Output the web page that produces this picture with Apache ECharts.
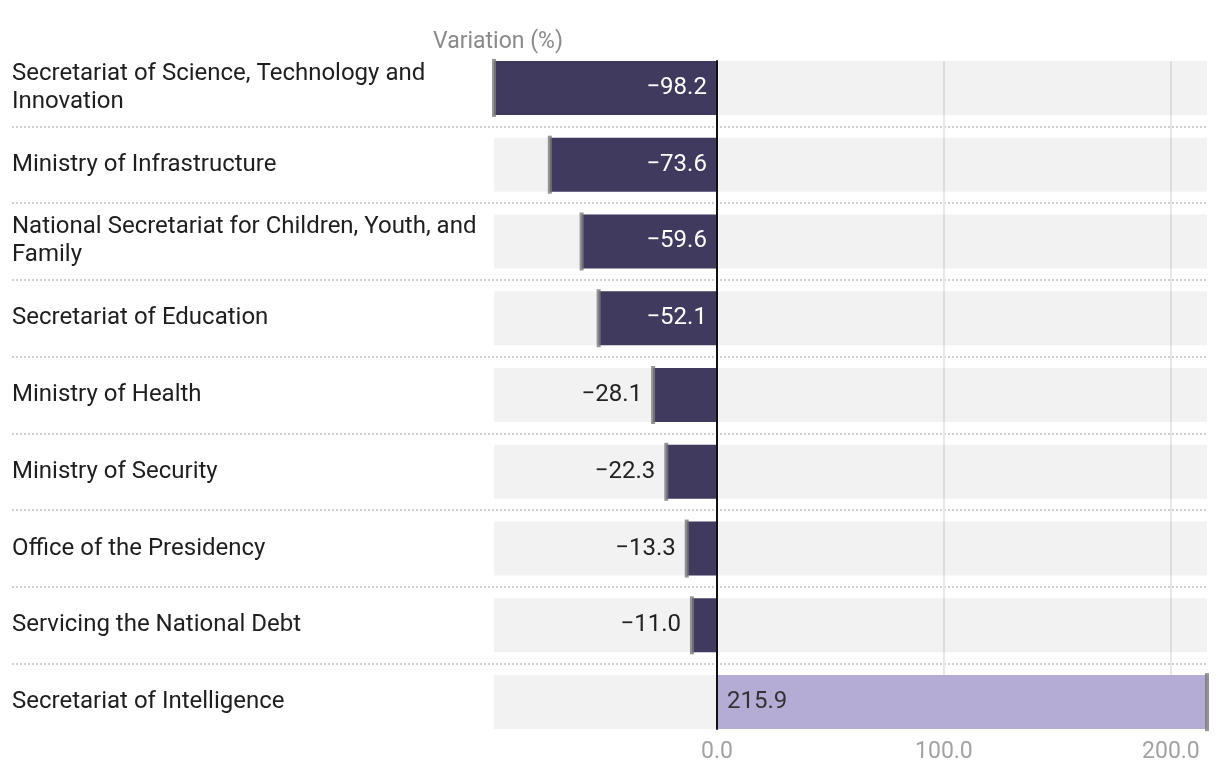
<!DOCTYPE html>
<html>
<head>
<meta charset="utf-8">
<script src="https://cdn.jsdelivr.net/npm/echarts@6/dist/echarts.min.js"></script>
<style>
html,body{margin:0;padding:0;background:#fff;}
#chart{width:1220px;height:776px;}
</style>
</head>
<body>
<div id="chart"></div>
<script>
// ---- data ----
const categories = [
  'Secretariat of Science, Technology and Innovation',
  'Ministry of Infrastructure',
  'National Secretariat for Children, Youth, and Family',
  'Secretariat of Education',
  'Ministry of Health',
  'Ministry of Security',
  'Office of the Presidency',
  'Servicing the National Debt',
  'Secretariat of Intelligence'
];
const variation = [-98.2, -73.6, -59.6, -52.1, -28.1, -22.3, -13.3, -11.0, 215.9];
const tickValues = [0, 100, 200];
const axisTitle = 'Variation (%)';

// ---- layout ----
const W = 1220, H = 776;
const gridTop = 49.5, gridBottom = 35.5;
const plotLeft = 494, plotRight = 13, labelLeft = 12;
const barWidth = 54;
const band = (H - gridTop - gridBottom) / categories.length;
const zeroTop = gridTop + band / 2 - barWidth / 2;
const zeroBottom = gridBottom + band / 2 - barWidth / 2;
const FONT = 'Roboto';
const xMin = Math.min(...variation), xMax = Math.max(...variation);

const fmt = v => (v < 0 ? '\u2212' : '') + Math.abs(v).toFixed(1);

const barData = variation.map(v => {
  const big = Math.abs(v) > 40;
  let label;
  if (v >= 0) {
    label = {position: 'insideLeft', distance: 10, color: '#333'};
  } else if (big) {
    label = {position: 'insideRight', distance: 10, color: '#fff'};
  } else {
    label = {position: 'outside', distance: 11, color: '#222'};
  }
  return {
    value: v,
    itemStyle: {color: v < 0 ? '#413a5f' : '#b4acd4'},
    label: label
  };
});

const capData = variation.map((v, i) => [v, i]);

const chart = echarts.init(document.getElementById('chart'), null, {renderer: 'canvas'});
chart.setOption({
  backgroundColor: '#fff',
  animation: false,
  textStyle: {fontFamily: FONT},
  title: {
    text: axisTitle,
    left: 428, top: 26,
    textStyle: {fontFamily: FONT, fontSize: 23, fontWeight: 'normal', color: '#8a8a8a'}
  },
  grid: [
    {left: labelLeft, right: plotRight, top: gridTop, bottom: gridBottom, containLabel: false},
    {left: plotLeft, right: plotRight, top: gridTop, bottom: gridBottom, containLabel: false},
    {left: plotLeft, right: plotRight, top: zeroTop, bottom: zeroBottom, containLabel: false}
  ],
  xAxis: [
    {gridIndex: 0, type: 'value', show: false, min: 0, max: 1},
    {gridIndex: 1, type: 'value', min: xMin, max: xMax, show: false},
    {
      gridIndex: 2, type: 'value', min: xMin, max: xMax,
      axisLine: {show: false},
      axisTick: {show: false, customValues: tickValues},
      axisLabel: {
        customValues: tickValues,
        formatter: v => v.toFixed(1),
        color: '#a3a3a3', fontSize: 23, fontFamily: FONT, margin: 12
      },
      splitLine: {show: true, lineStyle: {color: '#e8e8e8', width: 2}}
    }
  ],
  yAxis: [
    {
      gridIndex: 0, type: 'category', inverse: true, data: categories,
      axisLine: {show: false}, axisTick: {show: false},
      axisLabel: {
        inside: true, margin: 0, color: '#1e1e1e', fontSize: 24, fontFamily: FONT,
        lineHeight: 28, width: 480, overflow: 'break', align: 'left'
      },
      splitLine: {
        show: true, showMinLine: false, showMaxLine: false,
        lineStyle: {color: '#d0d0d0', width: 2, type: [2, 2]}
      }
    },
    {
      gridIndex: 1, type: 'category', inverse: true, data: categories,
      axisLine: {show: false}, axisTick: {show: false}, axisLabel: {show: false},
      splitLine: {show: false}
    },
    {
      gridIndex: 2, type: 'value', min: 0, max: 1, z: 10,
      axisLine: {show: true, onZero: true, lineStyle: {color: '#111', width: 2}},
      axisTick: {show: false}, axisLabel: {show: false}, splitLine: {show: false}
    }
  ],
  series: [
    {
      type: 'bar',
      xAxisIndex: 1, yAxisIndex: 1,
      data: barData,
      barWidth: barWidth,
      showBackground: true,
      backgroundStyle: {color: 'rgba(0,0,0,0.05)'},
      label: {
        show: true, fontSize: 24, fontFamily: FONT,
        formatter: p => fmt(p.value)
      },
      silent: true,
      z: 2
    },
    {
      type: 'scatter',
      xAxisIndex: 1, yAxisIndex: 1,
      data: capData,
      symbol: 'rect',
      symbolSize: [4, barWidth + 4],
      itemStyle: {color: '#7a7a7a'},
      clip: false,
      silent: true,
      z: 3
    }
  ]
});
</script>
</body>
</html>
